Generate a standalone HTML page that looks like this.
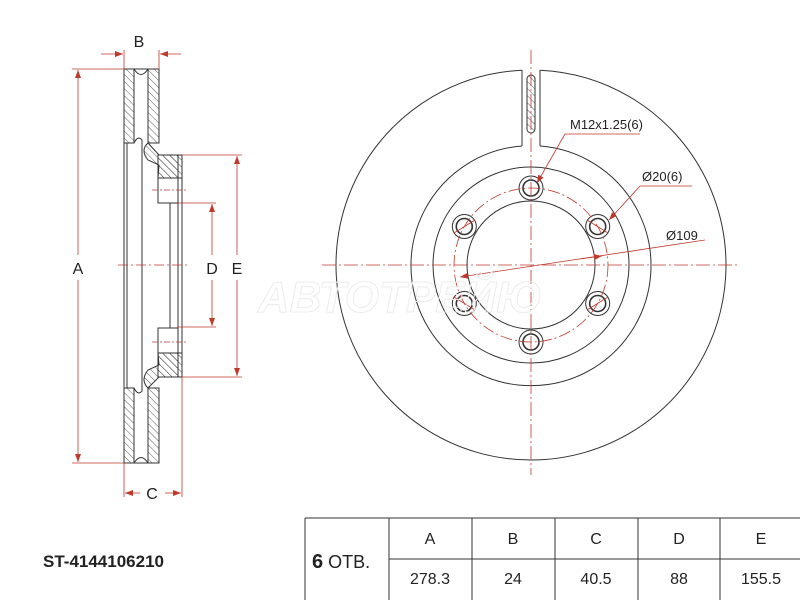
<!DOCTYPE html>
<html><head><style>
html,body{margin:0;padding:0;background:#fff;}
svg{display:block;font-family:"Liberation Sans",sans-serif;}
</style></head><body>
<svg width="800" height="600" viewBox="0 0 800 600" xmlns="http://www.w3.org/2000/svg">
<defs>
<pattern id="h" width="5" height="5" patternUnits="userSpaceOnUse" patternTransform="rotate(-45)">
<line x1="0" y1="0" x2="0" y2="5" stroke="#333" stroke-width="0.8"/>
</pattern>
<marker id="ar" markerWidth="8" markerHeight="6" refX="8" refY="3" orient="auto" markerUnits="userSpaceOnUse"><path d="M0,0 L8,3 L0,6z" fill="#c0392b"/></marker>
<marker id="al" markerWidth="8" markerHeight="6" refX="0" refY="3" orient="auto" markerUnits="userSpaceOnUse"><path d="M8,0 L0,3 L8,6z" fill="#c0392b"/></marker>
</defs>
<rect width="800" height="600" fill="#fff"/>

<!-- SIDE VIEW -->
<g stroke="#333" stroke-width="1" fill="url(#h)">
<rect x="124" y="69" width="10" height="74"/>
<rect x="148" y="69" width="11" height="74"/>
<rect x="124" y="388" width="10" height="75"/>
<rect x="148" y="388" width="11" height="75"/>
<path d="M148,143 Q140,150 148,160 L159,165 L158,178 L178,178 L178,155 L159,155 Z"/>
<path d="M148,388 Q140,380 148,370 L159,365 L158,353 L178,353 L178,377 L159,377 Z"/>
<rect x="158" y="155" width="24" height="23"/>
<rect x="158" y="353" width="24" height="24"/>
</g>
<g stroke="#333" stroke-width="1" fill="none">
<rect x="158" y="178" width="20" height="25"/>
<rect x="158" y="328" width="20" height="25"/>
<line x1="124" y1="143" x2="124" y2="388"/>
<line x1="127" y1="143" x2="127" y2="388"/>
<path d="M134,143 Q138,135 142,140 L142,391 Q138,396 134,388"/>
<line x1="170" y1="203" x2="170" y2="328"/>
<line x1="178" y1="203" x2="178" y2="328"/>
<line x1="182" y1="178" x2="182" y2="353"/>
<line x1="134" y1="69" x2="148" y2="69"/>
<line x1="134" y1="463" x2="148" y2="463"/>
<path d="M134,69 Q141,80 148,69"/>
<path d="M134,463 Q141,452 148,463"/>
</g>
<g stroke="#c0392b" stroke-width="0.8" fill="none">
<line x1="118" y1="265" x2="190" y2="265" stroke-dasharray="10,3,2,3"/>
<line x1="152" y1="190" x2="186" y2="190" stroke-dasharray="6,2,2,2"/>
<line x1="152" y1="342" x2="186" y2="342" stroke-dasharray="6,2,2,2"/>
<line x1="72" y1="69" x2="124" y2="69"/>
<line x1="72" y1="463" x2="124" y2="463"/>
<line x1="78" y1="70" x2="78" y2="255" marker-start="url(#al)"/>
<line x1="78" y1="280" x2="78" y2="462" marker-end="url(#ar)"/>
<line x1="182" y1="155" x2="242" y2="155"/>
<line x1="182" y1="377" x2="242" y2="377"/>
<line x1="237" y1="156" x2="237" y2="255" marker-start="url(#al)"/>
<line x1="237" y1="280" x2="237" y2="376" marker-end="url(#ar)"/>
<line x1="178" y1="203" x2="216" y2="203"/>
<line x1="178" y1="327" x2="216" y2="327"/>
<line x1="212" y1="204" x2="212" y2="255" marker-start="url(#al)"/>
<line x1="212" y1="280" x2="212" y2="326" marker-end="url(#ar)"/>
<line x1="124" y1="50" x2="124" y2="69"/>
<line x1="159" y1="50" x2="159" y2="69"/>
<line x1="101" y1="54" x2="123" y2="54" marker-end="url(#ar)"/>
<line x1="181" y1="54" x2="160" y2="54" marker-end="url(#ar)"/>
<line x1="124" y1="463" x2="124" y2="497"/>
<line x1="182" y1="377" x2="182" y2="497"/>
<line x1="125" y1="493" x2="140" y2="493" marker-start="url(#al)"/>
<line x1="165" y1="493" x2="181" y2="493" marker-end="url(#ar)"/>
</g>
<g fill="#222" font-size="16" text-anchor="middle">
<text x="139" y="47">B</text>
<text x="78" y="274">A</text>
<text x="212" y="274">D</text>
<text x="237" y="274">E</text>
<text x="152" y="499">C</text>
</g>

<!-- FRONT VIEW -->
<g stroke="#333" stroke-width="1" fill="none">
<path d="M522,70.2 A195,195 0 1 0 540,70.2"/>
<line x1="522" y1="70" x2="522" y2="146"/>
<line x1="540" y1="70" x2="540" y2="146"/>
<path d="M522,146 A120,120 0 1 0 540,146"/>
<circle cx="531" cy="265" r="98"/>
<circle cx="531" cy="265" r="64"/>
<rect x="527" y="75" width="8" height="58" rx="4" fill="url(#h)"/>
</g>
<g stroke="#333" fill="#fff">
<circle cx="531" cy="188" r="12"/><circle cx="531" cy="188" r="8" stroke-width="1.6"/>
<circle cx="597.7" cy="226.5" r="12"/><circle cx="597.7" cy="226.5" r="8" stroke-width="1.6"/>
<circle cx="597.7" cy="303.5" r="12"/><circle cx="597.7" cy="303.5" r="8" stroke-width="1.6"/>
<circle cx="531" cy="342" r="12"/><circle cx="531" cy="342" r="8" stroke-width="1.6"/>
<circle cx="464.3" cy="303.5" r="12"/><circle cx="464.3" cy="303.5" r="8" stroke-width="1.6"/>
<circle cx="464.3" cy="226.5" r="12"/><circle cx="464.3" cy="226.5" r="8" stroke-width="1.6"/>
</g>
<g stroke="#c0392b" stroke-width="0.8" fill="none">
<circle cx="531" cy="265" r="77" stroke-dasharray="12,3,2,3"/>
<line x1="322" y1="265" x2="740" y2="265" stroke-dasharray="14,3,2,3"/>
<line x1="531" y1="50" x2="531" y2="475" stroke-dasharray="14,3,2,3"/>
<line x1="587" y1="220" x2="608" y2="233"/>
<line x1="587" y1="310" x2="608" y2="297"/>
<line x1="475" y1="220" x2="454" y2="233"/>
<line x1="475" y1="310" x2="454" y2="297"/>
<line x1="565" y1="134" x2="640" y2="134"/>
<line x1="565" y1="134" x2="537" y2="183" marker-end="url(#ar)"/>
<line x1="640" y1="186" x2="692" y2="186"/>
<line x1="640" y1="186" x2="609" y2="220" marker-end="url(#ar)"/>
<line x1="705" y1="240" x2="460" y2="277" marker-end="url(#ar)"/>
<line x1="580" y1="259" x2="602" y2="256" marker-end="url(#ar)"/>
</g>
<g fill="#222" font-size="13">
<text x="570" y="129">M12x1.25(6)</text>
<text x="642" y="181">Ø20(6)</text>
<text x="666" y="240">Ø109</text>
</g>
<text x="400" y="312" font-size="44" font-weight="bold" font-style="italic" fill="none" stroke="#ececec" stroke-width="1" text-anchor="middle">АВТОТРЕЙЮ</text>

<!-- TABLE -->
<g stroke="#333" stroke-width="1" fill="none">
<line x1="305" y1="518" x2="800" y2="518"/>
<line x1="389" y1="559" x2="800" y2="559"/>
<line x1="305" y1="518" x2="305" y2="600"/>
<line x1="389" y1="518" x2="389" y2="600"/>
<line x1="472" y1="518" x2="472" y2="600"/>
<line x1="555" y1="518" x2="555" y2="600"/>
<line x1="638" y1="518" x2="638" y2="600"/>
<line x1="720" y1="518" x2="720" y2="600"/>
</g>
<g fill="#222" font-size="16" text-anchor="middle">
<text x="430" y="544">A</text><text x="513" y="544">B</text><text x="596" y="544">C</text><text x="679" y="544">D</text><text x="761" y="544">E</text>
<text x="430" y="584">278.3</text><text x="513" y="584">24</text><text x="596" y="584">40.5</text><text x="679" y="584">88</text><text x="761" y="584">155.5</text>
</g>
<text x="312" y="568" font-size="18" fill="#222"><tspan font-weight="bold" font-size="20">6</tspan> ОТВ.</text>
<text x="43" y="567" font-size="17" font-weight="bold" fill="#222">ST-4144106210</text>
</svg>
</body></html>
